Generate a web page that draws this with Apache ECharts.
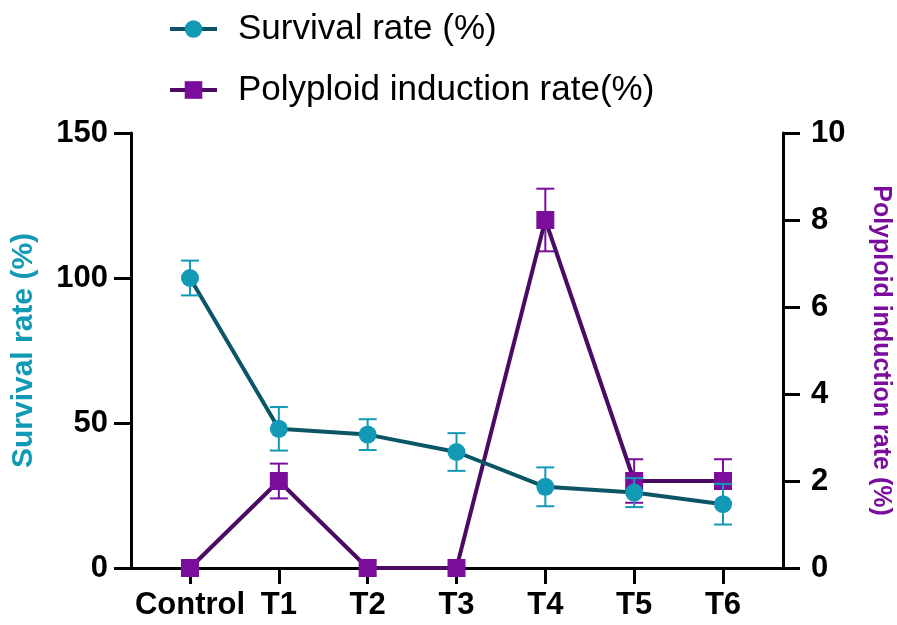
<!DOCTYPE html>
<html>
<head>
<meta charset="utf-8">
<script src="https://cdn.jsdelivr.net/npm/echarts@6/dist/echarts.min.js"></script>
<style>
  html, body { margin: 0; padding: 0; background: #fff; }
  #chart { width: 897px; height: 625px; }
</style>
</head>
<body>
<div id="chart"></div>
<script>
const categories = ['Control', 'T1', 'T2', 'T3', 'T4', 'T5', 'T6']
const survivalMean = [100, 48, 46, 40, 28, 26, 22]
const survivalErr = [6, 7.5, 5.3, 6.5, 6.7, 5, 7]
const polyMean = [0, 2, 0, 0, 8, 2, 2]
const polyErr = [0, 0.4, 0, 0, 0.72, 0.5, 0.5]
const leftTicks = { min: 0, max: 150, interval: 50 }
const rightTicks = { min: 0, max: 10, interval: 2 }

const font = "'Liberation Sans', Arial, sans-serif"
const teal = '#1299b6'
const tealLine = '#0b5567'
const purple = '#7b0d9c'
const purpleLine = '#4b0b63'

const myChart = echarts.init(document.getElementById('chart'))

// error bar data: [index, low, high]
const errData = (mean, err) => mean.map((m, i) => [i, m - err[i], m + err[i]])

const renderErr = (params, api) => {
  const low = api.coord([api.value(0), api.value(1)])
  const high = api.coord([api.value(0), api.value(2)])
  if (Math.abs(high[1] - low[1]) < 1) return
  const w = 9
  const style = { stroke: api.visual('color'), lineWidth: 2 }
  return {
    type: 'group',
    children: [
      { type: 'line', shape: { x1: low[0], y1: low[1], x2: high[0], y2: high[1] }, style },
      { type: 'line', shape: { x1: low[0] - w, y1: low[1], x2: low[0] + w, y2: low[1] }, style },
      { type: 'line', shape: { x1: high[0] - w, y1: high[1], x2: high[0] + w, y2: high[1] }, style }
    ]
  }
}

const tickLabel = { color: '#000', fontWeight: 'bold', fontSize: 31, fontFamily: font }
const blackLine = { lineStyle: { color: '#000', width: 3 } }

const option = {
  animation: false,
  legend: {
    orient: 'vertical',
    left: 163,
    top: 4,
    itemWidth: 47,
    itemHeight: 22,
    itemGap: 21,
    data: [
      { name: 'Survival rate (%)', lineStyle: { width: 4 } },
      { name: 'Polyploid induction rate(%)', lineStyle: { width: 4 } }
    ],
    textStyle: { fontSize: 35, color: '#000', fontFamily: font, lineHeight: 40, padding: [0, 0, 0, 16] }
  },
  grid: [
    { left: 131, right: 114, top: 133, bottom: 57, outerBoundsMode: 'none' },
    { left: 190, right: 174, top: 133, bottom: 57, outerBoundsMode: 'none' }
  ],
  xAxis: [
    {
      gridIndex: 0,
      type: 'category',
      data: categories,
      axisLine: blackLine,
      axisTick: { show: false },
      axisLabel: { show: false }
    },
    {
      gridIndex: 1,
      type: 'category',
      data: categories,
      boundaryGap: false,
      axisLine: { show: false },
      axisTick: { show: true, length: 16, lineStyle: { color: '#000', width: 3 } },
      axisLabel: Object.assign({ margin: 22, interval: 0 }, tickLabel)
    }
  ],
  yAxis: [
    {
      gridIndex: 0,
      type: 'value',
      position: 'left',
      min: leftTicks.min,
      max: leftTicks.max,
      interval: leftTicks.interval,
      axisLine: Object.assign({ show: true }, blackLine),
      axisTick: { show: true, length: 17, lineStyle: { color: '#000', width: 3 } },
      axisLabel: Object.assign({ margin: 23 }, tickLabel),
      splitLine: { show: false },
      name: 'Survival rate (%)',
      nameLocation: 'middle',
      nameGap: 92,
      nameTextStyle: { color: teal, fontWeight: 'bold', fontSize: 30, fontFamily: font }
    },
    {
      gridIndex: 0,
      type: 'value',
      position: 'right',
      min: rightTicks.min,
      max: rightTicks.max,
      interval: rightTicks.interval,
      axisLine: Object.assign({ show: true }, blackLine),
      axisTick: { show: true, length: 17, lineStyle: { color: '#000', width: 3 } },
      axisLabel: Object.assign({ margin: 28 }, tickLabel),
      splitLine: { show: false },
      name: 'Polyploid induction rate (%)',
      nameLocation: 'middle',
      nameRotate: -90,
      nameGap: 85,
      nameTextStyle: { color: purple, fontWeight: 'bold', fontSize: 25, fontFamily: font }
    },
    { gridIndex: 1, type: 'value', min: leftTicks.min, max: leftTicks.max, show: false },
    { gridIndex: 1, type: 'value', min: rightTicks.min, max: rightTicks.max, show: false }
  ],
  series: [
    {
      name: 'Polyploid induction rate(%)',
      type: 'line',
      xAxisIndex: 1,
      yAxisIndex: 3,
      data: polyMean,
      symbol: 'rect',
      symbolSize: 18,
      z: 3,
      lineStyle: { color: purpleLine, width: 4 },
      itemStyle: { color: purple }
    },
    {
      name: 'Survival rate (%)',
      type: 'line',
      xAxisIndex: 1,
      yAxisIndex: 2,
      data: survivalMean,
      symbol: 'circle',
      symbolSize: 18,
      z: 4,
      lineStyle: { color: tealLine, width: 4 },
      itemStyle: { color: teal }
    },
    {
      type: 'custom',
      xAxisIndex: 1,
      yAxisIndex: 3,
      data: errData(polyMean, polyErr),
      renderItem: renderErr,
      itemStyle: { color: purple },
      encode: { x: 0, y: [1, 2] },
      z: 2
    },
    {
      type: 'custom',
      xAxisIndex: 1,
      yAxisIndex: 2,
      data: errData(survivalMean, survivalErr),
      renderItem: renderErr,
      itemStyle: { color: teal },
      encode: { x: 0, y: [1, 2] },
      z: 5
    }
  ]
}

myChart.setOption(option)
</script>
</body>
</html>
